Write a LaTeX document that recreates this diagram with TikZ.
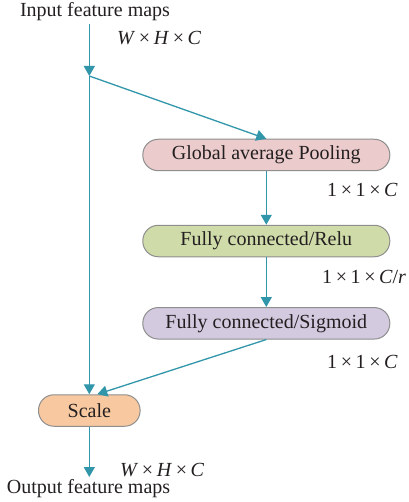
\documentclass[tikz,border=0pt]{standalone}
\usepackage{fontspec}
\setmainfont{Liberation Serif}
\usetikzlibrary{arrows.meta}
\definecolor{flow}{HTML}{3196AA}
\definecolor{edge}{HTML}{8E8E8E}
\definecolor{ink}{HTML}{231F20}
\definecolor{poolfill}{HTML}{EBCBCB}
\definecolor{relufill}{HTML}{CFDCA9}
\definecolor{sigfill}{HTML}{D3CADF}
\definecolor{scalefill}{HTML}{F8C9A0}
% multiplication sign with binary-operator spacing
\newcommand\crossdim{\hspace{0.18em}×\hspace{0.18em}}
\begin{document}
\begin{tikzpicture}[x=1bp,y=-1bp,
  every node/.style={font=\fontsize{20bp}{24bp}\selectfont, text=ink, inner sep=0pt},
  block/.style={draw=edge, line width=1bp, rounded corners=15.5bp, minimum height=31.5bp},
  flowline/.style={draw=flow, line width=1.3bp},
  flowarrow/.style={flowline, -{Triangle[length=10bp,width=11bp]}}]
  \useasboundingbox (0,0) rectangle (408,502);

  % processing blocks
  \node[block, fill=poolfill, minimum width=247bp] (gap) at (266.3,155) {Global average Pooling};
  \node[block, fill=relufill, minimum width=247bp] (relu) at (266.3,241) {Fully connected/Relu};
  \node[block, fill=sigfill, minimum width=247bp] (sig) at (266.3,323.3) {Fully connected/Sigmoid};
  \node[block, fill=scalefill, minimum width=101.6bp] (scale) at (89.3,410.5) {Scale};

  % input / output captions
  \node (in) at (95,12) {Input feature maps};
  \node (out) at (88.5,489) {Output feature maps};
  \coordinate (top) at (89.3,24);
  \coordinate (split) at (89.3,76);
  \coordinate (end) at (89.3,477);

  % tensor sizes
  \node[anchor=west] (s0) at (117,38) {\textit{W}\crossdim\textit{H}\crossdim\textit{C}};
  \node[anchor=west] (s1) at (327,190) {1\crossdim1\crossdim\textit{C}};
  \node[anchor=west] (s2) at (322,277) {1\crossdim1\crossdim\textit{C}/\textit{r}};
  \node[anchor=west] (s3) at (327,362) {1\crossdim1\crossdim\textit{C}};
  \node[anchor=west] (s4) at (120,470) {\textit{W}\crossdim\textit{H}\crossdim\textit{C}};

  % connectors
  \draw[flowarrow] (top) -- (split);
  \draw[flowarrow] (split) -- (gap.north);
  \draw[flowarrow] (split) -- (scale.north);
  \draw[flowarrow] (gap.south) -- (relu.north);
  \draw[flowarrow] (relu.south) -- (sig.north);
  \draw[flowarrow] (sig.south) -- ([xshift=8bp]scale.north);
  \draw[flowarrow] (scale.south) -- (end);
\end{tikzpicture}
\end{document}
